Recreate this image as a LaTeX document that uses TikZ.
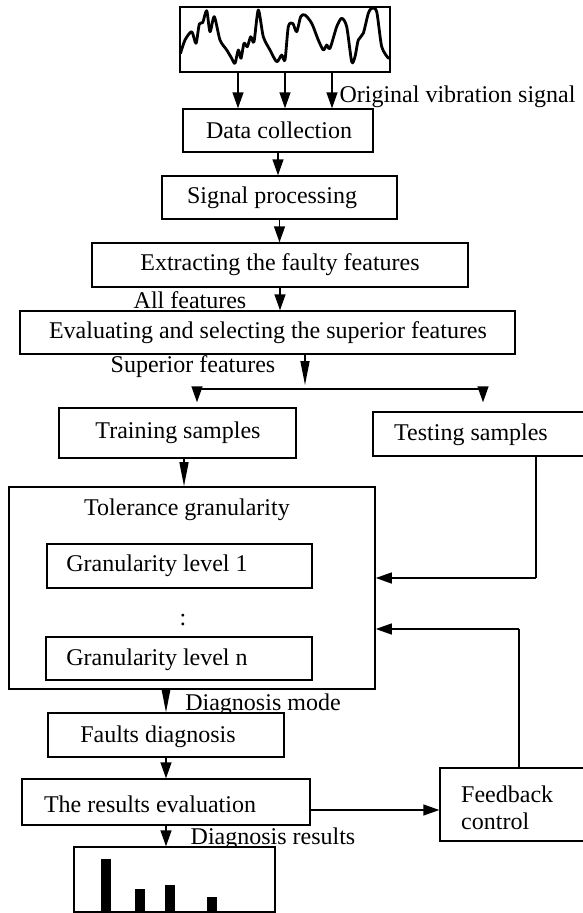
\documentclass[tikz,border=0pt]{standalone}
\usepackage{fontspec}
\setmainfont{Liberation Serif}
\usetikzlibrary{arrows.meta}
\begin{document}
\begin{tikzpicture}[x=1pt,y=-1pt,
  box/.style={draw, line width=1.4pt, fill=white, inner sep=0pt},
  lbl/.style={inner sep=0pt, font=\fontsize{24}{26}\selectfont},
  arr/.style={line width=1.4pt, -{Triangle[width=11pt,length=16pt]}},
  arrlong/.style={line width=1.4pt, -{Triangle[width=9pt,length=24pt]}},
  link/.style={line width=1.4pt}]
\useasboundingbox (0,0) rectangle (583,913);
\clip (0,0) rectangle (583,913);

% vibration signal
\node[box, line width=1.8pt, minimum width=210pt, minimum height=65pt] (sig) at (285,39.5) {};
\draw[line width=2.8pt, line join=round, line cap=round] plot[smooth, tension=0.45] coordinates {
 (180.5,53.3) (185,40) (191.7,31.7) (196,43.3) (199.3,24) (202.7,22.7) (206.7,10.7)
 (210,31.7) (214.3,16.7) (220,40) (226.7,50) (231.7,58.3) (235,63.3) (238.3,50)
 (241,58.3) (244,43.3) (247.3,46.7) (250.7,36.7) (254,41.7) (258.3,10) (263.3,36.7)
 (270,50) (276.7,61.7) (281.7,55) (285,60) (288.3,26.7) (292.7,23.3) (296.7,31.7)
 (300.7,16.7) (305,15) (311.7,23.3) (318.3,40) (323.3,50) (326.7,45) (330,48.3)
 (336.7,26.7) (341.7,18.3) (346.7,26.7) (351.7,61.7) (355,56.7) (358.3,40)
 (363.3,33.3) (368.3,13.3) (371.7,8.3) (376.7,11.7) (381.7,46.7) (388.5,58.3)};
\node[lbl] (orig) at (457.5,97) {Original vibration signal};

% processing chain
\node[box, minimum width=190pt, minimum height=43pt] (data) at (278,130.5) {};
\node[lbl] (datat) at (279,130.5) {Data collection};
\node[box, minimum width=235pt, minimum height=43pt] (proc) at (279.5,197.5) {};
\node[lbl] (proct) at (272,197.5) {Signal processing};
\node[box, minimum width=376pt, minimum height=44pt] (extr) at (280,265) {};
\node[lbl] (extrt) at (280,265) {Extracting the faulty features};
\node[lbl] (allf) at (190,300) {All features};
\node[box, minimum width=495pt, minimum height=43pt] (eval) at (267.5,332.5) {};
\node[lbl] (evalt) at (268,332.5) {Evaluating and selecting the superior features};
\node[lbl] (supf) at (193,367) {Superior features};

% samples
\node[box, minimum width=237pt, minimum height=50pt] (train) at (177.5,433) {};
\node[lbl] (traint) at (178,433) {Training samples};
\node[box, minimum width=227pt, minimum height=44pt] (test) at (486.5,434) {};
\node[lbl] (testt) at (471,435) {Testing samples};

% tolerance granularity
\node[box, line width=1.6pt, minimum width=366pt, minimum height=202pt] (tol) at (192,588) {};
\node[lbl] (tolt) at (187,510) {Tolerance granularity};
\node[box, minimum width=265pt, minimum height=44pt] (g1) at (179.5,566) {};
\node[lbl] (g1t) at (157,566) {Granularity level 1};
\node[lbl] (dots) at (183,620) {:};
\node[box, minimum width=266pt, minimum height=43pt] (gn) at (179,658.5) {};
\node[lbl] (gnt) at (157,660) {Granularity level n};

% diagnosis
\begin{scope}
\clip (150,680) rectangle (400,712);
\node[lbl] (dmode) at (263,705) {Diagnosis mode};
\end{scope}
\node[box, minimum width=236pt, minimum height=44pt] (faults) at (166,735) {};
\node[lbl] (faultst) at (158,737) {Faults diagnosis};
\node[box, minimum width=288pt, minimum height=46pt] (res) at (166,802) {};
\node[lbl] (rest) at (150,804) {The results evaluation};
\node[box, minimum width=160pt, minimum height=73pt] (fb) at (520,804.5) {};
\node[lbl, anchor=west, align=left, font=\fontsize{24}{27}\selectfont] (fbt) at (461,808) {Feedback\\control};
\node[lbl] (dres) at (273,839) {Diagnosis results};

% result chart
\node[box, minimum width=201pt, minimum height=65pt] (chart) at (174.5,879.5) {};
\fill (101,859) rectangle (111,913);
\fill (135,889) rectangle (145,913);
\fill (165,885) rectangle (175,913);
\fill (207,897) rectangle (217,913);

% connectors
\foreach \dx in {-47,0,47}
  \draw[arr] ([xshift=\dx pt]sig.south) -- ([xshift=\dx pt]sig.south |- data.north);
\draw[arr] (data.south) -- (data.south |- proc.north);
\draw[arr] (proc.south) -- (proc.south |- extr.north);
\draw[arr] (extr.south) -- (extr.south |- eval.north);

\coordinate (split) at (305,389);
\coordinate (spl) at (197,389);
\coordinate (spr) at (483,389);
\draw[arrlong] (split |- eval.south) -- ([yshift=4pt]split);
\draw[link] (spl) -- (spr);
\draw[arr] (spl) -- ([yshift=5pt]spl |- train.north);
\draw[arr] (spr) -- ([yshift=9pt]spr |- test.north);

\coordinate (tcol) at (184,460);
\draw[arrlong] (tcol |- train.south) -- (tcol |- tol.north);
\coordinate (tin) at (536,578);
\draw[link] (tin |- test.south) -- (tin);
\draw[arr] (tin) -- (tin -| tol.east);
\coordinate (fin) at (519,629);
\draw[link] (fin |- fb.north) -- (fin);
\draw[arr] (fin) -- (fin -| tol.east);

\draw[arrlong] (faults.north |- tol.south) -- (faults.north);
\draw[arr] (faults.south) -- (faults.south |- res.north);
\coordinate (rfb) at (400,810);
\draw[arr] (rfb -| res.east) -- (rfb -| fb.west);
\draw[arr] (res.south) -- (res.south |- chart.north);
\end{tikzpicture}
\end{document}
